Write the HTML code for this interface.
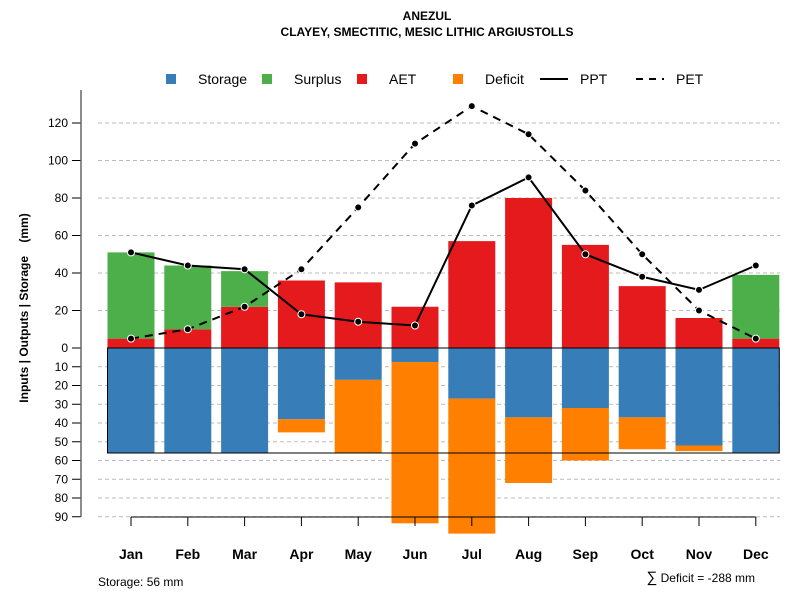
<!DOCTYPE html>
<html><head><meta charset="utf-8"><style>
body{margin:0;background:#fff}
svg text{font-family:"Liberation Sans",sans-serif}
</style></head><body>
<svg id="c" width="800" height="600" xmlns="http://www.w3.org/2000/svg">
<text x="427" y="20" text-anchor="middle" font-size="12" font-weight="bold">ANEZUL</text>
<text x="427" y="36" text-anchor="middle" font-size="12" font-weight="bold">CLAYEY, SMECTITIC, MESIC LITHIC ARGIUSTOLLS</text>
<g id="grid"></g><g id="bars"></g><g id="lines"></g><g id="axis"></g>
<g font-size="14">
<rect x="166" y="74" width="10" height="10" fill="#377eb8"/>
<text x="198" y="84">Storage</text>
<rect x="262" y="74" width="10" height="10" fill="#4daf4a"/>
<text x="294" y="84">Surplus</text>
<rect x="357" y="74" width="10" height="10" fill="#e41a1c"/>
<text x="389" y="84">AET</text>
<rect x="453" y="74" width="10" height="10" fill="#ff7f00"/>
<text x="485" y="84">Deficit</text>
<line x1="540" y1="79" x2="568" y2="79" stroke="#000" stroke-width="2"/>
<text x="580" y="84">PPT</text>
<line x1="636" y1="79" x2="664" y2="79" stroke="#000" stroke-width="2" stroke-dasharray="7,6"/>
<text x="676" y="84">PET</text>
</g>
<text transform="translate(28,308) rotate(-90)" text-anchor="middle" font-size="12" font-weight="bold" style="white-space:pre">Inputs | Outputs | Storage    (mm)</text>
<text x="98" y="586" font-size="12">Storage: 56 mm</text>
<text x="755" y="582" text-anchor="end" font-size="12"><tspan font-size="15">∑</tspan> Deficit = -288 mm</text>
</svg>
<script>
const months=["Jan","Feb","Mar","Apr","May","Jun","Jul","Aug","Sep","Oct","Nov","Dec"];
const aet=[5,10,22,36,35,22,57,80,55,33,16,5];
const surplus=[46,34,19,0,0,0,0,0,0,0,0,34];
const storage=[56,56,56,38,17,7.5,27,37,32,37,52,56];
const deficit=[0,0,0,7,39,86,72,35,28,17,3,0];
const ppt=[51,44,42,18,14,12,76,91,50,38,31,44];
const pet=[5,10,22,42,75,109,129,114,84,50,20,5];
const upTicks=[0,20,40,60,80,100,120];
const downTicks=[10,20,30,40,50,60,70,80,90];
const maxStorage=56;
const NS="http://www.w3.org/2000/svg";
const Y0=348,K=1.875;
const yU=v=>Y0-v*K, yD=v=>Y0+v*K;
const xC=i=>131+i*56.8, BW=47;
function mk(tag,attrs,parent){const e=document.createElementNS(NS,tag);for(const k in attrs)e.setAttribute(k,attrs[k]);document.getElementById(parent).appendChild(e);return e;}
upTicks.forEach(t=>{
 if(t>0){const g=mk('line',{x1:98,x2:780,y1:yU(t),y2:yU(t),stroke:'#bbb','stroke-dasharray':'4,3'},'grid');
 
 }
 const tk=mk('line',{x1:72,x2:81,y1:yU(t),y2:yU(t),stroke:'#000'},'axis');
 
 
 const tx=mk('text',{x:68,y:yU(t)+4,'text-anchor':'end','font-size':12},'axis');tx.textContent=t;
 
 
});
downTicks.forEach(t=>{
 const g=mk('line',{x1:98,x2:780,y1:yD(t),y2:yD(t),stroke:'#bbb','stroke-dasharray':'4,3'},'grid');
 
 
 const tk=mk('line',{x1:72,x2:81,y1:yD(t),y2:yD(t),stroke:'#000'},'axis');
 
 
 const tx=mk('text',{x:68,y:yD(t)+4,'text-anchor':'end','font-size':12},'axis');tx.textContent=t;
 
 
});
const ax=mk('line',{x1:81,x2:81,y1:90,y2:517,stroke:'#666','stroke-width':1.5},'axis');


const xa=mk('line',{x1:xC(0),x2:xC(11),y1:517,y2:517,stroke:'#000'},'axis');


months.forEach((m,i)=>{
 const x=xC(i),l=x-BW/2;
 const tk=mk('line',{x1:x,x2:x,y1:517,y2:526,stroke:'#000'},'axis');
 
 
 const tx=mk('text',{x:x,y:559,'text-anchor':'middle','font-size':14,'font-weight':'bold'},'axis');tx.textContent=m;
 
 
 let r=mk('rect',{x:l,width:BW,y:yU(aet[i]),height:aet[i]*K,fill:'#e41a1c'},'bars');
 
 
 r=mk('rect',{x:l,width:BW,y:yU(aet[i]+surplus[i]),height:surplus[i]*K,fill:'#4daf4a'},'bars');
 
 
 r=mk('rect',{x:l,width:BW,y:Y0,height:storage[i]*K,fill:'#377eb8'},'bars');
 
 
 r=mk('rect',{x:l,width:BW,y:yD(storage[i]),height:deficit[i]*K,fill:'#ff7f00'},'bars');
 
 
});
const box=mk('rect',{x:xC(0)-BW/2,y:Y0,width:xC(11)-xC(0)+BW,height:maxStorage*K,fill:'none',stroke:'#000'},'bars');


function series(arr,name,dash){
 const p=mk('polyline',{points:arr.map((v,i)=>xC(i)+','+yU(v)).join(' '),fill:'none',stroke:'#000','stroke-width':2,'stroke-dasharray':dash},'lines');
 
 
 arr.forEach((v,i)=>{const c=mk('circle',{cx:xC(i),cy:yU(v),r:3.5,fill:'#000',stroke:'#fff','stroke-width':1},'lines');
 
 });
}
series(ppt,'ppt','none');
series(pet,'pet','8,6');
</script>
</body></html>
